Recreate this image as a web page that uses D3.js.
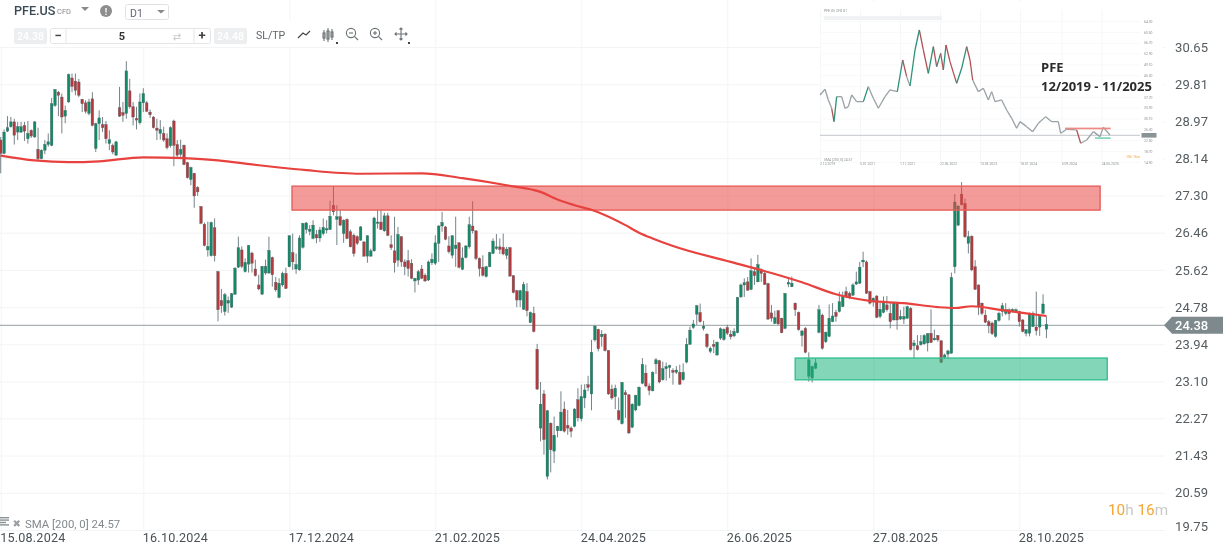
<!DOCTYPE html>
<html>
<head>
<meta charset="utf-8">
<title>PFE.US D1</title>
<script src="https://cdn.jsdelivr.net/npm/d3@7/dist/d3.min.js"></script>
<style>
  html, body { margin: 0; padding: 0; background: #fff; overflow: hidden; }
  svg { display: block; font-family: Roboto, sans-serif; filter: blur(0.3px); }
  .axis .domain { display: none; }
  .axis line { stroke: #f2f4f5; }
  .soft { filter: blur(0.45px); }
</style>
</head>
<body>
<svg id="chart" width="1230" height="546"></svg>
<script>
// daily candles, one row = ten bars
const opens = [
  28.55,28.25,28.75,28.85,28.96,28.73,28.73,28.88,28.58,28.77,
  28.62,28.34,28.13,28.32,28.45,28.43,29.33,29.63,29.52,29.09,
  29.41,29.95,29.88,29.86,29.47,29.39,29.15,29.48,28.36,28.92,
  28.90,28.90,28.47,28.43,28.21,29.28,29.17,29.15,29.66,29.30,
  29.04,28.94,29.39,29.39,29.18,29.07,28.82,28.70,28.70,28.58,
  28.42,28.98,28.45,28.23,28.43,28.04,27.66,27.80,27.48,27.05,
  26.65,26.07,25.94,26.57,25.58,24.93,24.68,24.87,24.78,25.07,
  25.68,26.07,25.58,25.75,26.00,25.64,25.28,25.07,25.55,25.55,
  25.90,25.34,25.00,
  25.28,25.54,25.69,26.01,25.64,25.62,26.13,26.53,26.49,26.33,
  26.42,26.34,26.44,26.52,26.53,27.08,26.76,26.82,26.44,26.76,
  26.48,26.40,26.37,26.29,26.25,25.93,25.93,26.05,26.67,26.70,
  26.50,26.84,26.19,26.05,25.84,26.37,25.80,25.83,25.77,25.37,
  25.39,25.64,25.50,25.39,25.78,25.77,26.22,26.61,26.59,26.16,
  25.95,26.10,26.23,25.63,25.90,26.14,26.61,26.50,25.88,25.68,
  25.47,25.69,25.99,26.10,26.14,26.13,25.95,26.12,25.49,25.15,
  24.94,24.73,25.13,24.43,24.64,23.83,22.05,22.82,20.96,22.16,
  21.53,21.99,21.99,22.48,22.11,22.05,22.09,22.69,22.26,22.73,
  23.03,22.82,24.04,24.28,24.11,24.17,23.80,22.93,22.76,22.44,
  22.15,22.85,22.80,22.07,22.46,22.56,23.06,23.29,23.00,22.89,
  23.50,23.57,23.14,23.39,23.42,23.35,23.31,23.31,23.14,23.54,
  23.94,24.32,24.62,24.66,24.30,24.17,23.78,23.94,23.70,24.08,
  24.05,24.32,24.17,24.13,24.20,25.01,25.28,25.35,25.18,25.58,
  25.35,25.61,25.54,25.31,24.65,24.41,24.70,24.53,24.30,25.30,
  25.24,24.87,24.66,24.14,24.30,23.22,23.18,23.40,24.21,24.60,
  24.00,24.12,24.45,24.66,24.68,24.79,25.13,25.09,25.05,25.30,
  25.32,25.80,25.80,25.13,24.90,25.03,24.57,24.66,24.83,24.64,
  24.49,24.88,24.51,24.51,24.53,24.75,23.91,23.91,23.93,23.95,
  23.97,24.19,24.04,24.14,24.02,23.65,23.72,23.74,25.69,26.63,
  27.33,27.12,26.22,26.38,25.69,25.28,24.87,24.60,24.45,24.42,
  24.12,24.48,24.68,24.64,24.72,24.68,24.68,24.68,24.49,24.19,
  24.19,24.34,24.33,24.33,24.64,24.28
];
const highs = [
  28.62,28.79,29.09,29.07,29.03,28.96,28.96,28.96,28.98,28.79,
  28.98,28.83,28.34,28.55,28.70,29.50,29.70,29.66,29.60,29.33,
  30.05,30.05,30.05,29.93,29.48,29.45,29.48,29.63,28.94,29.22,
  29.07,28.98,28.77,28.47,28.53,29.75,29.41,30.33,29.93,29.41,
  29.30,29.60,29.72,29.43,29.24,29.09,29.03,29.00,28.85,28.70,
  28.86,29.01,28.55,28.56,28.45,28.06,27.95,27.81,27.51,27.06,
  26.69,26.71,26.71,26.78,25.60,25.19,25.10,25.02,25.10,25.68,
  26.37,26.15,25.88,26.18,26.03,25.85,25.51,25.71,25.85,26.37,
  25.92,25.46,25.43,
  25.58,25.67,26.40,26.44,25.99,26.40,26.68,26.70,26.63,26.74,
  26.52,26.59,26.78,26.74,27.18,27.51,27.08,26.97,26.76,26.78,
  26.53,26.44,26.40,26.61,26.27,26.40,26.10,26.82,26.97,26.98,
  26.91,26.91,26.40,26.82,26.59,26.38,25.86,26.07,25.86,25.44,
  25.62,25.73,25.54,25.83,25.99,26.40,26.63,26.93,26.61,26.38,
  26.40,26.82,26.25,26.13,26.18,26.82,27.17,26.52,25.90,25.95,
  25.71,26.03,26.33,26.43,26.33,26.44,26.14,26.14,25.50,25.17,
  25.17,25.35,25.32,24.68,24.79,23.95,23.09,22.91,22.46,22.18,
  22.31,22.10,22.88,22.65,22.46,22.09,22.50,22.95,23.03,23.04,
  23.23,24.04,24.38,24.29,24.26,24.19,23.81,23.03,23.03,22.74,
  23.09,22.91,22.82,22.61,22.80,22.99,23.63,23.48,23.06,23.33,
  23.63,23.59,23.55,23.53,23.48,23.40,23.45,23.48,23.51,24.08,
  24.34,24.49,24.83,24.86,24.47,24.19,23.89,24.04,24.00,24.32,
  24.30,24.38,24.26,24.30,25.01,25.31,25.43,25.46,25.88,25.65,
  25.96,25.65,25.58,25.33,24.83,24.70,24.71,24.54,25.10,25.43,
  25.47,24.88,24.68,24.27,24.33,23.76,23.46,23.63,24.83,24.63,
  24.23,24.84,24.87,24.72,25.13,25.13,25.24,25.13,25.32,25.58,
  25.80,26.03,25.83,25.15,25.00,25.05,24.87,25.02,25.03,24.87,
  24.90,24.90,24.72,24.79,24.81,24.78,24.04,24.15,24.15,24.17,
  24.19,24.73,24.27,24.15,24.03,23.73,23.82,25.56,27.33,27.08,
  27.60,27.23,26.50,26.40,25.84,25.29,24.88,24.72,24.49,24.45,
  24.49,24.68,24.88,24.87,24.75,24.75,24.75,24.70,24.51,24.28,
  24.66,24.68,25.13,24.59,25.07,24.57
];
const lows = [
  27.80,28.23,28.73,28.83,28.45,28.55,28.71,28.53,28.47,28.60,
  28.60,28.10,28.12,28.23,28.40,28.41,29.30,29.09,28.70,28.93,
  29.39,29.63,29.56,29.52,29.18,29.15,29.11,28.86,28.28,28.55,
  28.73,28.47,28.32,28.23,28.19,29.07,28.96,29.03,29.26,28.88,
  28.79,28.90,29.18,29.18,29.05,28.81,28.55,28.56,28.51,28.34,
  28.38,27.96,28.16,28.17,27.98,27.68,27.53,27.02,27.29,26.65,
  26.15,25.92,25.92,25.81,24.46,24.65,24.59,24.65,24.76,25.06,
  25.66,25.66,25.56,25.56,25.56,25.47,25.16,25.06,25.51,25.53,
  25.24,25.13,24.98,
  25.24,25.19,25.68,25.62,25.53,25.60,26.10,26.44,26.40,26.31,
  26.22,26.25,26.40,26.44,26.52,26.85,26.18,26.61,26.23,26.31,
  26.13,25.92,26.18,26.28,25.92,25.78,25.92,26.03,26.55,26.52,
  26.48,26.38,26.07,25.56,25.69,25.69,25.50,25.47,25.41,25.11,
  25.28,25.41,25.35,25.37,25.73,25.73,25.80,26.48,26.29,25.99,
  25.88,25.69,25.65,25.62,25.88,26.10,26.44,25.84,25.47,25.47,
  25.45,25.68,25.98,26.07,25.98,25.95,25.86,25.47,25.09,24.78,
  24.78,24.72,24.57,24.42,24.21,22.91,21.75,21.45,20.89,21.05,
  21.26,21.84,21.98,21.95,21.90,21.84,22.07,22.20,22.20,22.50,
  22.88,22.45,24.00,23.78,23.89,23.78,22.80,22.69,22.48,22.22,
  22.13,22.28,21.92,22.05,22.43,22.54,23.04,22.97,22.79,22.88,
  23.27,23.06,23.12,23.12,23.18,23.03,23.27,23.03,23.12,23.51,
  23.93,24.29,24.38,24.43,24.25,23.85,23.74,23.74,23.68,24.04,
  24.02,24.15,24.05,24.10,24.19,24.99,25.01,25.15,25.16,25.28,
  25.34,25.35,25.28,24.49,24.45,24.40,24.38,24.19,24.28,25.23,
  25.23,24.58,24.25,23.89,23.74,23.10,23.08,23.38,24.19,23.82,
  23.97,24.10,24.44,24.45,24.66,24.78,24.98,24.96,25.03,25.28,
  25.30,25.68,25.08,24.84,24.79,24.53,24.53,24.64,24.68,24.30,
  24.48,24.27,24.49,24.40,24.51,23.80,23.63,23.80,23.91,23.93,
  23.78,23.97,24.03,24.00,23.52,23.61,23.61,23.73,25.54,26.61,
  27.07,26.34,25.99,25.59,25.17,24.60,24.60,24.42,24.19,24.15,
  24.09,24.45,24.57,24.60,24.48,24.66,24.66,24.34,24.21,24.12,
  24.12,24.33,24.14,24.13,24.62,24.08
];
const closes = [
  28.25,28.73,28.83,28.96,28.66,28.85,28.85,28.75,28.70,28.64,
  28.96,28.13,28.32,28.45,28.51,29.37,29.69,29.56,29.07,29.22,
  30.03,29.76,29.67,29.56,29.37,29.20,29.41,28.88,28.92,29.05,
  28.83,28.58,28.56,28.28,28.51,29.09,29.11,30.11,29.30,29.07,
  29.00,29.41,29.60,29.20,29.12,28.83,28.77,28.79,28.55,28.38,
  28.83,28.43,28.21,28.34,28.00,27.70,27.93,27.29,27.38,26.67,
  26.17,26.15,26.69,25.94,24.72,24.81,25.06,24.93,25.08,25.66,
  26.12,25.70,25.79,26.17,25.77,25.49,25.19,25.70,25.70,26.06,
  25.51,25.17,25.32,
  25.54,25.20,26.39,25.80,25.74,26.34,26.67,26.68,26.54,26.63,
  26.34,26.52,26.58,26.55,26.83,26.93,26.82,26.63,26.74,26.33,
  26.14,25.99,26.22,26.59,25.93,26.39,26.05,26.79,26.70,26.53,
  26.84,26.40,26.12,25.78,26.42,25.80,25.69,25.65,25.43,25.43,
  25.58,25.43,25.37,25.80,25.86,26.23,26.61,26.69,26.31,26.03,
  26.39,26.18,25.68,25.89,26.16,26.64,26.50,25.88,25.65,25.50,
  25.69,26.01,26.27,26.14,26.08,25.98,26.09,25.48,25.11,24.94,
  25.15,25.29,24.70,24.66,24.23,22.93,22.59,21.79,22.44,21.56,
  21.89,22.09,22.41,21.98,22.05,21.98,22.48,22.28,22.76,22.91,
  22.97,23.76,24.35,23.84,24.17,23.80,22.82,22.73,22.95,22.24,
  23.08,22.80,21.94,22.59,22.79,22.97,23.49,23.00,22.90,23.31,
  23.59,23.09,23.39,23.44,23.46,23.31,23.36,23.04,23.31,23.94,
  24.26,24.40,24.81,24.45,24.35,23.89,23.85,23.89,23.99,24.29,
  24.28,24.19,24.11,24.23,25.00,25.28,25.33,25.16,25.60,25.49,
  25.74,25.54,25.29,24.51,24.53,24.54,24.40,24.20,25.09,25.34,
  25.32,24.72,24.27,24.24,23.76,23.59,23.44,23.52,24.72,23.85,
  24.21,24.53,24.58,24.57,24.90,25.04,25.02,25.00,25.28,25.35,
  25.68,25.84,25.09,24.87,24.98,24.55,24.73,24.88,24.72,24.45,
  24.88,24.49,24.57,24.57,24.79,23.82,23.97,23.82,24.00,24.14,
  24.18,23.98,24.08,24.04,23.53,23.70,23.79,25.45,27.15,27.06,
  27.09,26.37,26.37,25.62,25.18,24.79,24.64,24.44,24.36,24.18,
  24.48,24.64,24.81,24.72,24.63,24.73,24.72,24.45,24.23,24.27,
  24.64,24.64,24.25,24.57,24.85,24.39
];

// SMA 200, read at these bars
const smaBars = [0,10,20,29,42,54,64,74,82,90,106,124,136,149,159,164,169,175,184,188,192,198,215,227,236,246,256,266,276,281,286,295,308];
const smaValues = [28.20,28.09,28.05,28.07,28.16,28.14,28.09,28.00,27.93,27.87,27.79,27.80,27.69,27.53,27.38,27.21,27.08,26.95,26.63,26.46,26.33,26.16,25.80,25.55,25.34,25.07,24.92,24.87,24.78,24.76,24.80,24.71,24.58];

const priceTicks = [30.65,29.81,28.97,28.14,27.30,26.46,25.62,24.78,23.94,23.10,22.27,21.43,20.59,19.75];
const dateBars = [0,42,85,128,171,214,257,300];
const dateLabels = ['15.08.2024','16.10.2024','17.12.2024','21.02.2025','24.04.2025','26.06.2025','27.08.2025','28.10.2025'];
const lastPrice = 24.38;

// supply / demand zones: [first bar, last bar, upper price, lower price]
const redZone = [85.8, 323.8, 27.51, 26.97];
const greenZone = [234, 325.9, 23.63, 23.14];

// long term inset, 12/2019 - 11/2025
const insetBars = [0,15,25,35,42,50,65,75,85,95,110,130,145,160,175,195,210,232,248,260,270,285,298,310,325,340,350,362,370,378,390,410,425,440,450,458,475,490,505,515,525,545,560,575,590,600,620,638,655,677,695,715,722,740,770,782,800,820,840,850,870];
const insetValues = [38.54,40.53,36.78,33.86,29.18,37.95,37.95,33.86,34.44,38.54,36.20,36.20,41.46,37.37,33.86,37.95,40.29,39.71,50.82,44.97,41.70,54.33,61.35,54.33,46.14,55.50,48.48,53.16,47.31,56.09,50.24,42.63,47.90,55.50,50.82,43.80,39.71,40.88,36.78,39.71,36.20,36.78,33.27,30.35,26.84,29.18,27.42,25.67,28.59,30.93,29.18,29.18,25.08,26.49,26.25,21.57,22.74,25.67,23.91,27.19,24.50];
const insetTicks = [64.3,60.5,56.7,52.9,49.1,45.3,41.5,37.7,33.9,30.1,26.3,22.5,18.7,14.9];
const insetDateBars = [0,120,240,360,480,600,725,845];
const insetDates = ['2.12.2019','5.01.2021','1.11.2021','22.06.2022','13.03.2023','18.01.2024','5.09.2024','24.05.2025'];
const insetRedZone = [735, 872, 26.8];
const insetGreenZone = [825, 872, 23.4];

const green = '#128a66';
const red = '#b43a3e';
const wick = '#66757b';

const svg = d3.select('#chart');
const right = 1165;

const x = d3.scaleLinear().domain([0, 300]).range([0.7, 1019.3]);
const y = d3.scaleLinear().domain([19.75, 30.65]).range([530, 47]);

// ---- axes and grid
const yAxis = svg.append('g')
  .attr('class', 'axis')
  .attr('transform', `translate(${right},0)`)
  .call(d3.axisRight(y).tickValues(priceTicks).tickFormat(d3.format('.2f')).tickSize(-right).tickPadding(10));
yAxis.selectAll('text')
  .attr('x', 10)
  .style('font-size', '13px')
  .style('font-family', 'Roboto')
  .style('fill', '#555c60')
  .style('letter-spacing', '0.1px');
yAxis.selectAll('.tick').filter(d => d === 19.75).select('text').attr('dy', '0.0em');

const xAxis = svg.append('g')
  .attr('class', 'axis')
  .attr('transform', 'translate(0,530)')
  .call(d3.axisBottom(x).tickValues(dateBars)
    .tickFormat((d, i) => dateLabels[i]).tickSize(-530).tickPadding(2));
xAxis.selectAll('text')
  .attr('text-anchor', 'start')
  .attr('x', -1)
  .attr('y', 3)
  .style('font-size', '12.6px')
  .style('font-family', 'Roboto')
  .style('letter-spacing', '0.2px')
  .style('fill', '#4a5256');

// ---- candles
const bars = d3.range(opens.length).map(i => ({
  i, open: opens[i], high: highs[i], low: lows[i], close: closes[i],
}));

const marks = svg.append('g');

marks.append('line')
  .attr('x1', 0).attr('x2', right)
  .attr('y1', y(lastPrice) + 0.5).attr('y2', y(lastPrice) + 0.5)
  .style('stroke', '#a9b1b5')
  .style('stroke-width', 1.1);

const candles = marks.append('g').selectAll('g')
  .data(bars)
  .join('g');

candles.append('line')
  .attr('x1', d => x(d.i)).attr('x2', d => x(d.i))
  .attr('y1', d => y(d.high)).attr('y2', d => y(d.low))
  .style('stroke', wick)
  .style('stroke-width', 0.9);

candles.append('rect')
  .attr('x', d => x(d.i) - 1.3)
  .attr('width', 2.6)
  .attr('y', d => y(Math.max(d.open, d.close)))
  .attr('height', d => Math.max(1, Math.abs(y(d.open) - y(d.close))))
  .style('fill', d => (d.close >= d.open ? green : red))
  .style('stroke', '#4d5f63')
  .style('stroke-width', 0.35);

// ---- zones
function drawZone(zone, fill, stroke) {
  marks.append('rect')
    .attr('x', x(zone[0]))
    .attr('width', x(zone[1]) - x(zone[0]))
    .attr('y', y(zone[2]))
    .attr('height', y(zone[3]) - y(zone[2]))
    .style('fill', fill)
    .style('stroke', stroke)
    .style('stroke-width', 1.4);
}
drawZone(redZone, 'rgba(231,72,68,0.55)', '#e8605c');
drawZone(greenZone, 'rgba(30,180,125,0.55)', '#35c092');

// ---- SMA line
const smaLine = d3.line()
  .x(d => x(d[0]))
  .y(d => y(d[1]))
  .curve(d3.curveMonotoneX);

marks.append('path')
  .datum(d3.zip(smaBars, smaValues))
  .attr('d', smaLine)
  .style('fill', 'none')
  .style('stroke', '#e8423f')
  .style('stroke-width', 2.2);

// ---- current price tag
const tagY = y(lastPrice) + 0.5;
svg.append('path')
  .attr('d', `M1164,${tagY}L1172,${tagY - 8.5}H1223V${tagY + 8.5}H1172Z`)
  .style('fill', '#7d898d');
svg.append('text')
  .attr('x', 1175).attr('y', tagY)
  .attr('dy', '0.36em')
  .text(d3.format('.2f')(lastPrice))
  .style('fill', '#fff')
  .style('font-size', '13px')
  .style('font-weight', 500);

// ---- bottom captions
const sma = svg.append('g').style('fill', '#8b9194');
sma.selectAll('rect').data([0, 1, 2, 3]).join('rect')
  .attr('x', 0).attr('y', d => 517 + d * 2.4)
  .attr('width', d => (d === 2 ? 6 : 9)).attr('height', 1.4);
svg.append('text').attr('x', 12.5).attr('y', 527).text('✖')
  .style('font-family', 'DejaVu Sans').style('font-size', '10px').style('fill', '#9aa0a3');
svg.append('text').attr('x', 25).attr('y', 527.5).text('SMA [200, 0] 24.57')
  .style('font-size', '11.4px').style('fill', '#83898c');

const timer = svg.append('text').attr('x', 1108).attr('y', 515).style('font-size', '15.3px');
[['10', '#f5a531'], ['h ', '#c9c9c9'], ['16', '#f5a531'], ['m', '#c9c9c9']].forEach(([t, c]) => {
  timer.append('tspan').text(t).style('fill', c);
});

// ---- toolbar
const bar = svg.append('g');
bar.append('rect').attr('x', 0).attr('y', 0).attr('width', 285).attr('height', 47).style('fill', '#fff');
bar.append('rect').attr('x', 285).attr('y', 20).attr('width', 130).attr('height', 27).style('fill', '#fff');

bar.append('text').attr('x', 14).attr('y', 15).text('PFE.US')
  .style('font-size', '12.6px').style('font-weight', 500).style('fill', '#3a4a55');
bar.append('text').attr('x', 57).attr('y', 14).text('CFD')
  .style('font-size', '7.5px').style('fill', '#888');
bar.append('path').attr('d', 'M81,7h8l-4,4Z').style('fill', '#8a8a8a');
bar.append('circle').attr('cx', 106).attr('cy', 11).attr('r', 6).style('fill', '#8d8d8d');
bar.append('text').attr('x', 106).attr('y', 14.5).attr('text-anchor', 'middle').text('!')
  .style('font-size', '9px').style('font-weight', 700).style('fill', '#fff');
bar.append('rect').attr('x', 125.5).attr('y', 4.5).attr('width', 43).attr('height', 15).attr('rx', 2)
  .style('fill', '#fff').style('stroke', '#dfe2e4');
bar.append('text').attr('x', 130).attr('y', 16.5).text('D1').style('font-size', '10.5px').style('fill', '#667');
bar.append('path').attr('d', 'M157,10h8l-4,3.5Z').style('fill', '#8a8a8a');

function priceBox(px, label) {
  bar.append('rect').attr('x', px).attr('y', 28).attr('width', 33).attr('height', 16).attr('rx', 2)
    .style('fill', '#eceeef');
  bar.append('text').attr('x', px + 16.5).attr('y', 40).attr('text-anchor', 'middle').text(label)
    .style('font-size', '10.5px').style('fill', '#fff').style('font-weight', 500);
}
priceBox(14, '24.38');
priceBox(214, '24.48');

bar.append('rect').attr('x', 50.5).attr('y', 28.5).attr('width', 160).attr('height', 15).attr('rx', 2)
  .style('fill', '#fff').style('stroke', '#e3e5e7');
bar.append('line').attr('x1', 66).attr('x2', 66).attr('y1', 28).attr('y2', 44).style('stroke', '#e3e5e7');
bar.append('line').attr('x1', 194).attr('x2', 194).attr('y1', 28).attr('y2', 44).style('stroke', '#e3e5e7');
bar.append('text').attr('x', 58).attr('y', 40).attr('text-anchor', 'middle').text('−')
  .style('font-size', '13px').style('font-weight', 700).style('fill', '#444');
bar.append('text').attr('x', 122).attr('y', 40).attr('text-anchor', 'middle').text('5')
  .style('font-size', '11px').style('font-weight', 700).style('fill', '#333');
bar.append('text').attr('x', 177).attr('y', 40).attr('text-anchor', 'middle').text('⇄')
  .style('font-family', 'DejaVu Sans').style('font-size', '10px').style('fill', '#c4c7c9');
bar.append('text').attr('x', 202).attr('y', 40).attr('text-anchor', 'middle').text('+')
  .style('font-size', '13px').style('font-weight', 700).style('fill', '#444');
bar.append('text').attr('x', 256).attr('y', 39).text('SL/TP')
  .style('font-size', '10.5px').style('fill', '#5d6468');

const icons = bar.append('g').style('fill', 'none').style('stroke', '#6c7275').style('stroke-width', 1.1);
icons.append('path').attr('d', 'M298,38L303,33L306,35L310,31').style('stroke', '#3c4245');
[[324, 31, 40], [328, 29, 41], [332, 30, 39]].forEach(([cx, a, b]) => {
  icons.append('line').attr('x1', cx).attr('x2', cx).attr('y1', a - 1).attr('y2', b + 1);
  icons.append('rect').attr('x', cx - 1).attr('y', a + 2).attr('width', 2).attr('height', b - a - 4);
});
[351, 375].forEach((cx, k) => {
  icons.append('circle').attr('cx', cx).attr('cy', 33).attr('r', 4.6);
  icons.append('line').attr('x1', cx + 3.4).attr('y1', 36.4).attr('x2', cx + 7).attr('y2', 40);
  icons.append('line').attr('x1', cx - 2).attr('x2', cx + 2).attr('y1', 33).attr('y2', 33);
  if (k) icons.append('line').attr('x1', cx).attr('x2', cx).attr('y1', 31).attr('y2', 35);
});
icons.append('path').attr('d', 'M401,28V40M395,34H407M399.5,29.5L401,28L402.5,29.5M399.5,38.5L401,40L402.5,38.5M396.5,32.5L395,34L396.5,35.5M405.5,32.5L407,34L405.5,35.5');
[337, 409].forEach(px => {
  bar.append('rect').attr('x', px - 1).attr('y', 42).attr('width', 2).attr('height', 2).style('fill', '#444');
});

// ---- inset picture
const inset = svg.append('g');
inset.append('rect').attr('x', 820).attr('y', 2).attr('width', 342).attr('height', 165).style('fill', '#fff');

const ix = d3.scaleLinear().domain([0, 960]).range([820, 1140]);
const iy = d3.scaleLinear().domain([24.38, 61.35]).range([135.3, 30]);

inset.selectAll('.iv').data(insetDateBars).join('line')
  .attr('x1', d => ix(d) + 0.5).attr('x2', d => ix(d) + 0.5).attr('y1', 10).attr('y2', 162)
  .style('stroke', '#f6f7f8');
inset.selectAll('.ih').data(insetTicks).join('line')
  .attr('x1', 820).attr('x2', 1140).attr('y1', d => iy(d)).attr('y2', d => iy(d))
  .style('stroke', '#f8f9f9');

inset.append('line')
  .attr('x1', 820).attr('x2', 1140).attr('y1', iy(24.38)).attr('y2', iy(24.38))
  .style('stroke', '#b3b9bc').style('stroke-width', 0.8);
inset.append('rect').attr('x', 1141.5).attr('y', iy(24.38) - 2.3).attr('width', 15).attr('height', 4.6)
  .style('fill', '#8a9497');

const segments = d3.pairs(d3.zip(insetBars, insetValues));
inset.append('g').attr('class', 'soft').selectAll('line').data(segments).join('line')
  .attr('x1', d => ix(d[0][0])).attr('y1', d => iy(d[0][1]))
  .attr('x2', d => ix(d[1][0])).attr('y2', d => iy(d[1][1]))
  .style('stroke', d => {
    const change = d[1][1] - d[0][1];
    if (change > 4.5) return '#2c9277';
    if (change < -4.5) return '#b05357';
    return '#9aa2a6';
  })
  .style('stroke-width', 1.3);

inset.append('rect')
  .attr('x', ix(insetRedZone[0])).attr('width', ix(insetRedZone[1]) - ix(insetRedZone[0]))
  .attr('y', iy(insetRedZone[2]) - 0.8).attr('height', 1.7)
  .style('fill', '#ee8985');
inset.append('rect')
  .attr('x', ix(insetGreenZone[0])).attr('width', ix(insetGreenZone[1]) - ix(insetGreenZone[0]))
  .attr('y', iy(insetGreenZone[2]) - 0.7).attr('height', 1.4)
  .style('fill', '#62cfa7');

const tiny = inset.append('g').style('font-size', '3.4px').style('fill', '#8c9193');
// the 41.5 label sits under the PFE caption in the picture
tiny.selectAll('.t').data(insetTicks.filter(d => d !== 41.5)).join('text')
  .attr('x', 1144).attr('y', d => iy(d) + 1.2)
  .text(d => d3.format('.2f')(d));
tiny.selectAll('.d').data(insetDateBars).join('text')
  .attr('x', d => ix(d)).attr('y', 165)
  .text((d, i) => insetDates[i]);
tiny.append('text').attr('x', 824).attr('y', 12).text('PFE.US CFD    D1');
tiny.append('text').attr('x', 824).attr('y', 161).text('SMA [200, 0] 24.57');
tiny.append('text').attr('x', 1126).attr('y', 158).text('10h 16m').style('fill', '#f0a540').style('font-size', '3.6px');
inset.append('rect').attr('x', 824).attr('y', 16).attr('width', 118).attr('height', 4).style('fill', '#f1f2f3');

inset.append('text').attr('x', 1041).attr('y', 72).text('PFE')
  .style('font-family', '"Open Sans"').style('font-size', '13px').style('font-weight', 700).style('fill', '#2b2b2b');
inset.append('text').attr('x', 1041).attr('y', 90.5).text('12/2019 - 11/2025')
  .style('font-family', '"Open Sans"').style('font-size', '13px').style('font-weight', 700).style('fill', '#2b2b2b');
</script>
</body>
</html>
